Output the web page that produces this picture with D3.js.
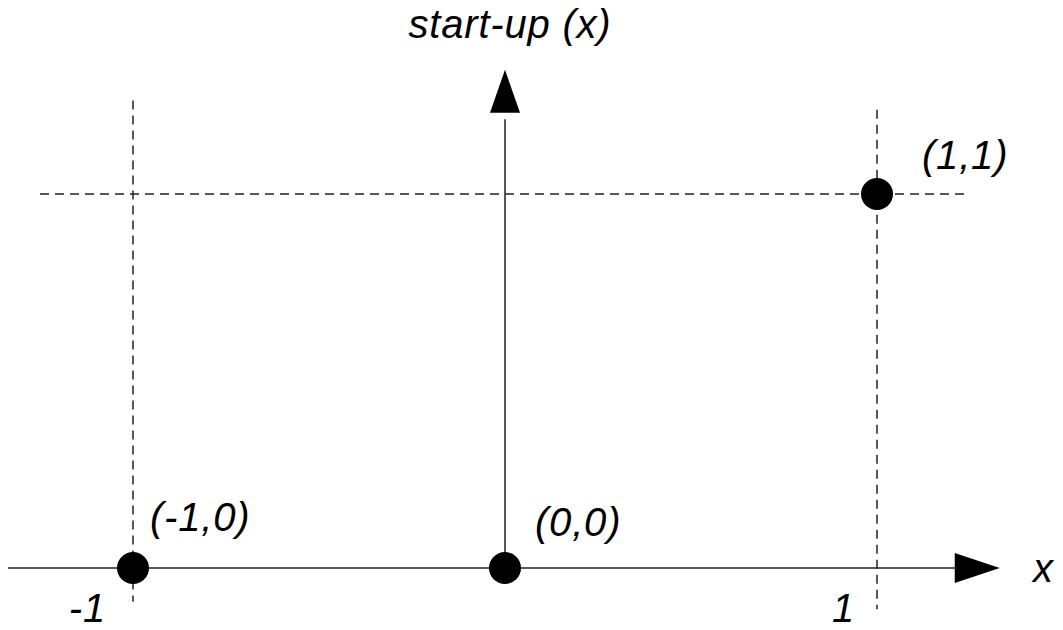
<!DOCTYPE html>
<html>
<head>
<meta charset="utf-8">
<script src="https://cdn.jsdelivr.net/npm/d3@7"></script>
<style>
  body { margin: 0; background: #fff; }
  text { font-family: "Liberation Sans", Arial, sans-serif; font-style: italic; fill: #000; letter-spacing: 0.8px; }
</style>
</head>
<body>
<svg width="1063" height="630"></svg>
<script>
// data
const pointsX = [-1, 0, 1];
const pointsY = [0, 0, 1];
const pointLabels = ["(-1,0)", "(0,0)", "(1,1)"];
const tickValues = [-1, 1];
const tickLabels = ["-1", "1"];
const xAxisLabel = "x";
const yAxisLabel = "start-up (x)";

// label offsets from each point (px)
const labelDx = [17, 30, 45];
const labelDy = [-37, -32, -25];
const tickDx = [-27, -22];

const svg = d3.select("svg");

// scales
const x = d3.scaleLinear().domain([-1, 1]).range([133, 877]);
const y = d3.scaleLinear().domain([0, 1]).range([568, 194]);

// dashed guide lines
const guides = svg.append("g")
    .attr("stroke", "#222")
    .attr("stroke-width", 1.5)
    .attr("stroke-dasharray", "9,6");

guides.append("line")
    .attr("x1", x(-1)).attr("x2", x(-1))
    .attr("y1", y(1.25)).attr("y2", y(-0.09));
guides.append("line")
    .attr("x1", x(1)).attr("x2", x(1))
    .attr("y1", y(1.225)).attr("y2", y(-0.11));
guides.append("line")
    .attr("x1", x(-1.25)).attr("x2", x(1.25))
    .attr("y1", y(1)).attr("y2", y(1));

// axes
const axes = svg.append("g").attr("stroke", "#222").attr("stroke-width", 1.5);
axes.append("line")
    .attr("x1", x(-1.336)).attr("x2", x(1.22))
    .attr("y1", y(0)).attr("y2", y(0));
axes.append("line")
    .attr("x1", x(0)).attr("x2", x(0))
    .attr("y1", y(0)).attr("y2", y(1.2));

// arrowheads
const xEnd = x(1.33), yEnd = y(1.332);
svg.append("path")
    .attr("d", `M${xEnd},${y(0)} L${xEnd - 45},${y(0) - 15} L${xEnd - 45},${y(0) + 15} Z`)
    .attr("fill", "#000");
svg.append("path")
    .attr("d", `M${x(0)},${yEnd} L${x(0) - 15},${yEnd + 43} L${x(0) + 15},${yEnd + 43} Z`)
    .attr("fill", "#000");

// points
svg.append("g")
  .selectAll("circle")
  .data(pointsX)
  .join("circle")
    .attr("cx", d => x(d))
    .attr("cy", (d, i) => y(pointsY[i]))
    .attr("r", 16)
    .attr("fill", "#000");

// point labels
svg.append("g")
  .selectAll("text")
  .data(pointLabels)
  .join("text")
    .attr("x", (d, i) => x(pointsX[i]) + labelDx[i])
    .attr("y", (d, i) => y(pointsY[i]) + labelDy[i])
    .attr("font-size", 40)
    .text(d => d);

// tick labels
svg.append("g")
  .selectAll("text")
  .data(tickValues)
  .join("text")
    .attr("x", (d, i) => x(d) + tickDx[i])
    .attr("y", y(0) + 54)
    .attr("text-anchor", "end")
    .attr("font-size", 40)
    .text((d, i) => tickLabels[i]);

// axis labels
svg.append("text")
    .attr("x", 1033)
    .attr("y", y(0) + 14)
    .attr("font-size", 40)
    .text(xAxisLabel);
svg.append("text")
    .attr("x", x(0) + 5)
    .attr("y", 38)
    .attr("text-anchor", "middle")
    .attr("font-size", 40)
    .text(yAxisLabel);
</script>
</body>
</html>
